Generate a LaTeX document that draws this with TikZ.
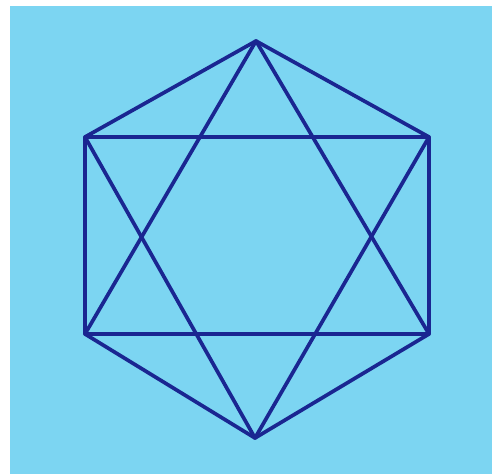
\documentclass[tikz,border=0pt]{standalone}
\definecolor{bgblue}{RGB}{124,213,242}
\definecolor{linenavy}{RGB}{26,38,145}
\tikzset{edge/.style={draw=linenavy,line width=3.7pt,line join=round,line cap=round}}
\begin{document}
\begin{tikzpicture}[x=1pt,y=1pt]
\useasboundingbox (0,0) rectangle (492,474);
\fill[white] (0,0) rectangle (492,474);
\fill[bgblue] (10,0) rectangle (492,468);
\coordinate (T) at (256,433);
\coordinate (UL) at (85,337);
\coordinate (UR) at (429,337);
\coordinate (LL) at (85,140);
\coordinate (LR) at (429,140);
\coordinate (B) at (255,36);
\draw[edge] (T) -- (UR) -- (LR) -- (B) -- (LL) -- (UL) -- cycle;
\draw[edge] (T) -- (LL) -- (LR) -- cycle;
\draw[edge] (UL) -- (UR) -- (B) -- cycle;
\end{tikzpicture}
\end{document}
